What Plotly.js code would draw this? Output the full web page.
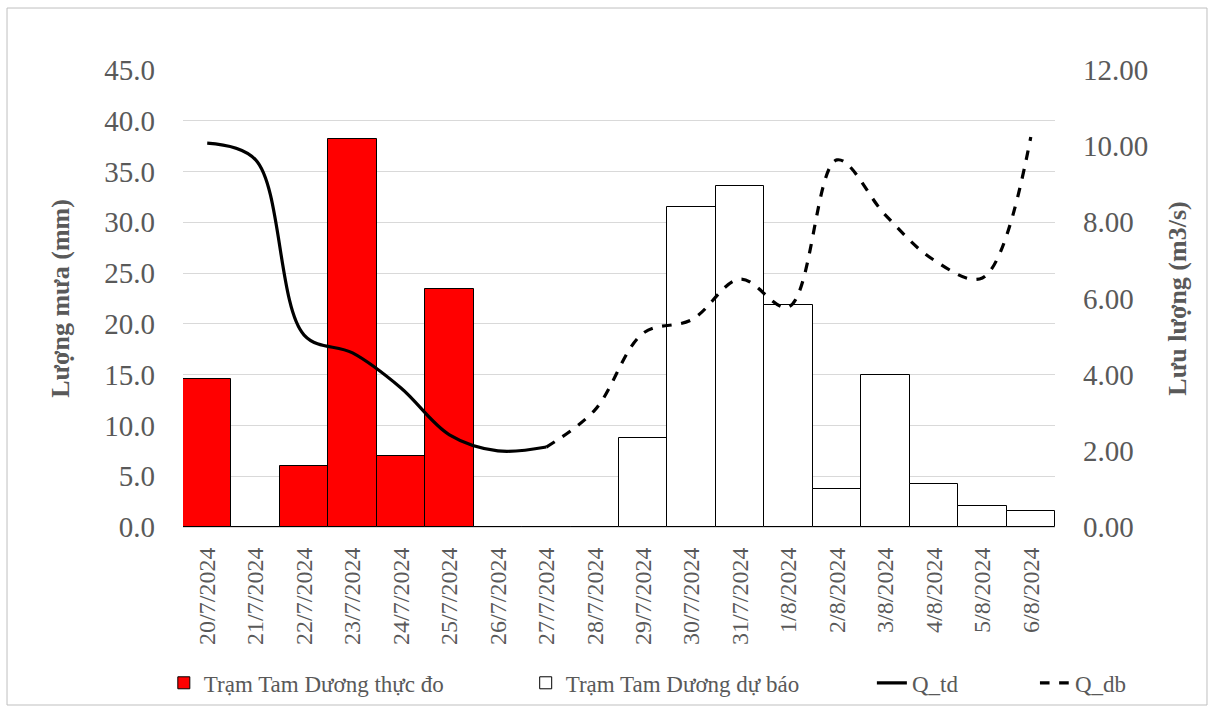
<!DOCTYPE html>
<html><head><meta charset="utf-8">
<script src="https://cdn.plot.ly/plotly-3.0.1.min.js"></script>
<style>html,body{margin:0;padding:0;background:#fff}#c{width:1213px;height:716px}</style>
</head><body><div id="c"></div>
<script>
const dates = ["20/7/2024","21/7/2024","22/7/2024","23/7/2024","24/7/2024","25/7/2024","26/7/2024","27/7/2024","28/7/2024","29/7/2024","30/7/2024","31/7/2024","1/8/2024","2/8/2024","3/8/2024","4/8/2024","5/8/2024","6/8/2024"];
const rainObserved = [14.6,0,6.0,38.2,7.0,23.4,null,null,null,null,null,null,null,null,null,null,null,null];
const rainForecast = [null,null,null,null,null,null,0,0,0,8.8,31.5,33.6,21.9,3.7,15.0,4.2,2.1,1.6];
const qtdDates = ["20/7/2024","21/7/2024","22/7/2024","23/7/2024","24/7/2024","25/7/2024","26/7/2024","27/7/2024"];
const qtd = [10.08,9.64,5.04,4.57,3.65,2.42,2.0,2.1];
const qdbDates = ["27/7/2024","28/7/2024","29/7/2024","30/7/2024","31/7/2024","1/8/2024","2/8/2024","3/8/2024","4/8/2024","5/8/2024","6/8/2024"];
const qdb = [2.1,3.07,5.09,5.44,6.51,5.78,9.64,8.19,7.01,6.54,10.24];

const gray = '#595959';
const fontFam = 'Liberation Serif';
const traces = [
  {type:'bar', name:'Trạm Tam Dương thực đo', x:dates, y:rainObserved, legend:'legend',
   marker:{color:'#ff0000', line:{color:'#000', width:1}}},
  {type:'bar', name:'Trạm Tam Dương dự báo', x:dates, y:rainForecast, legend:'legend2',
   marker:{color:'#ffffff', line:{color:'#000', width:1}}},
  {type:'scatter', mode:'lines', name:'Q_td', x:qtdDates, y:qtd, yaxis:'y2', legend:'legend3',
   line:{color:'#000', width:3.2, shape:'spline', smoothing:1}},
  {type:'scatter', mode:'lines', name:'Q_db', x:qdbDates, y:qdb, yaxis:'y2', legend:'legend4',
   line:{color:'#000', width:3.2, dash:'dash', shape:'spline', smoothing:1}}
];
function leg(x){
  return {orientation:'h', x:x, xanchor:'left', y:-0.341, yanchor:'middle',
          bgcolor:'rgba(0,0,0,0)', font:{size:23, color:gray, family:fontFam}};
}
const layout = {
  width:1213, height:716,
  margin:{l:183, r:158, t:70, b:189},
  paper_bgcolor:'#fff', plot_bgcolor:'#fff',
  font:{family:fontFam, color:gray},
  barmode:'overlay', bargap:0,
  showlegend:true,
  legend:leg(-0.022), legend2:leg(0.393), legend3:leg(0.79), legend4:leg(0.977),
  xaxis:{type:'category', tickangle:-90, tickfont:{size:24, color:gray, family:fontFam},
         showline:true, linecolor:'#d9d9d9', linewidth:1, showgrid:false, ticks:'', ticklabelstandoff:10},
  yaxis:{range:[0,45], dtick:5, tickformat:'.1f', tickfont:{size:29, color:gray, family:fontFam},
         gridcolor:'#d9d9d9', gridwidth:1, zeroline:false, ticks:'', ticklabelstandoff:27,
         title:{text:'<b>Lượng mưa (mm)</b>', font:{size:26, color:gray, family:fontFam}, standoff:27}},
  yaxis2:{overlaying:'y', side:'right', range:[0,12], dtick:2, tickformat:'.2f',
          tickfont:{size:29, color:gray, family:fontFam}, showgrid:false, zeroline:false, ticks:'', ticklabelstandoff:27,
          title:{text:'<b>Lưu lượng (m3/s)</b>', font:{size:26, color:gray, family:fontFam}, standoff:20}},
  shapes:[{type:'rect', xref:'paper', yref:'paper', x0:-0.2018, x1:1.1743, y0:-0.3895, y1:1.1356,
           line:{color:'#bfbfbf', width:1}, fillcolor:'rgba(0,0,0,0)', layer:'below'}]
};
Plotly.newPlot('c', traces, layout, {displayModeBar:false});
</script></body></html>
